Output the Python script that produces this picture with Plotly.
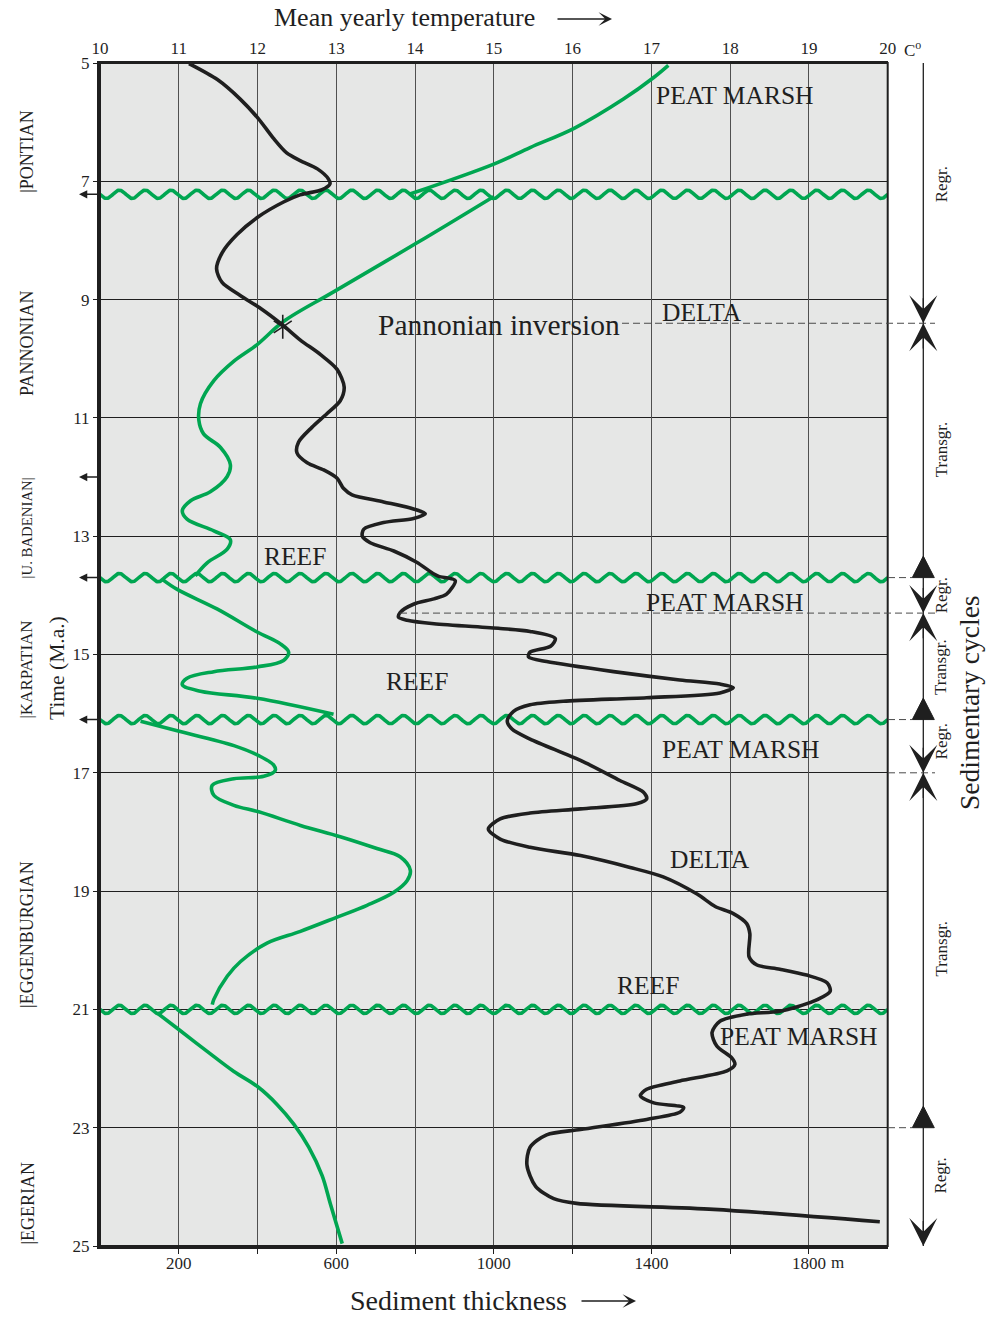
import numpy as np
import plotly.graph_objects as go

# ---------------- DATA ----------------
# Black curve: mean yearly temperature (deg C) against time (Ma)
temp_time = [5.01, 5.28, 5.61, 5.94, 6.27, 6.52, 6.65, 6.79, 6.96, 7.04, 7.14, 7.23, 7.35, 7.60,
             7.90, 8.21, 8.48, 8.71, 8.93, 9.15, 9.42, 9.68, 9.93, 10.18, 10.48, 10.71, 10.93,
             11.16, 11.41, 11.59, 11.76, 11.88, 12.02, 12.19, 12.30, 12.42, 12.54, 12.62, 12.70,
             12.77, 12.88, 13.00, 13.11, 13.25, 13.44, 13.64, 13.68, 13.75, 13.98, 14.06, 14.15,
             14.29, 14.37, 14.42, 14.48, 14.56, 14.61, 14.73, 14.86, 14.96, 15.04, 15.12, 15.29,
             15.43, 15.50, 15.56, 15.65, 15.73, 15.79, 15.85, 15.96, 16.12, 16.26, 16.43, 16.79,
             17.13, 17.33, 17.44, 17.52, 17.61, 17.68, 17.78, 17.95, 18.12, 18.26, 18.40, 18.60,
             18.76, 19.05, 19.26, 19.38, 19.55, 19.72, 20.11, 20.25, 20.32, 20.42, 20.55, 20.69,
             20.86, 21.03, 21.08, 21.20, 21.39, 21.62, 21.82, 21.93, 22.04, 22.21, 22.35, 22.46,
             22.58, 22.66, 22.74, 22.86, 23.03, 23.12, 23.33, 23.63, 23.99, 24.20, 24.28, 24.38,
             24.59]
temp_value = [11.13, 11.49, 11.78, 12.01, 12.20, 12.37, 12.54, 12.76, 12.90, 12.92, 12.82, 12.54,
              12.33, 12.01, 11.74, 11.55, 11.48, 11.55, 11.78, 12.04, 12.31, 12.54, 12.80, 13.01,
              13.10, 13.05, 12.88, 12.69, 12.52, 12.50, 12.63, 12.84, 13.01, 13.09, 13.20, 13.60,
              13.98, 14.13, 13.98, 13.60, 13.35, 13.33, 13.43, 13.73, 14.02, 14.24, 14.30, 14.51,
              14.40, 14.24, 13.98, 13.81, 13.79, 13.90, 14.24, 15.08, 15.46, 15.78, 15.72, 15.46,
              15.44, 15.67, 16.52, 17.36, 17.87, 18.04, 17.87, 16.94, 15.88, 15.46, 15.25, 15.17,
              15.23, 15.46, 16.10, 16.60, 16.90, 16.94, 16.82, 16.10, 15.46, 15.08, 14.93, 15.08,
              15.46, 16.10, 16.73, 17.15, 17.58, 17.81, 18.04, 18.21, 18.25, 18.24, 18.34, 18.63,
              18.97, 19.23, 19.27, 19.06, 18.63, 18.21, 17.87, 17.77, 17.83, 18.02, 18.06, 17.96,
              17.36, 16.94, 16.86, 17.03, 17.41, 17.36, 16.94, 16.10, 15.67, 15.46, 15.42, 15.53,
              15.76, 16.05, 17.79, 19.90]

# Green curve: sediment thickness (m) against time (Ma), in five separate stretches
sed_time_1 = [5.04, 5.25, 5.61, 6.10, 6.43, 6.70, 7.22]
sed_value_1 = [1443, 1405, 1329, 1205, 1092, 1003, 785]
sed_time_2 = [7.26, 8.04, 8.87, 9.37, 9.76, 10.04, 10.37, 10.76, 11.04, 11.27, 11.50, 11.79,
              11.99, 12.25, 12.40, 12.57, 12.71, 12.91, 13.06, 13.22, 13.45, 13.67]
sed_value_2 = [999, 805, 593, 466, 399, 340, 289, 255, 251, 263, 306, 331, 323, 280, 230, 209,
               221, 289, 331, 323, 272, 242]
sed_time_3 = [13.73, 13.90, 14.23, 14.62, 14.82, 14.96, 15.10, 15.21, 15.29, 15.40, 15.51, 15.62,
              15.74, 16.01]
sed_value_3 = [158, 196, 297, 399, 458, 479, 466, 399, 289, 221, 209, 255, 399, 593]
sed_time_4 = [16.13, 16.29, 16.54, 16.71, 16.87, 16.96, 17.06, 17.10, 17.21, 17.38, 17.55, 17.66,
              17.89, 18.08, 18.28, 18.42, 18.65, 18.82, 19.02, 19.24, 19.44, 19.68, 19.88, 20.19,
              20.44, 20.83, 20.92]
sed_value_4 = [103, 196, 340, 403, 441, 445, 416, 340, 285, 289, 340, 403, 509, 610, 703, 762,
               788, 780, 746, 678, 602, 509, 424, 357, 323, 289, 285]
sed_time_5 = [21.06, 21.34, 21.71, 22.05, 22.30, 22.61, 22.94, 23.33, 23.81, 24.29, 24.96]
sed_value_5 = [145, 200, 272, 340, 399, 450, 492, 530, 564, 585, 615]

# Pannonian inversion point (temperature, time)
inversion_temp = [12.32]
inversion_time = [9.46]

# Unconformities (wavy lines), Ma
unconformities = [7.22, 13.70, 16.10, 21.00]

# Axis ticks
time_ticks = [5, 7, 9, 11, 13, 15, 17, 19, 21, 23, 25]
temp_ticks = [10, 11, 12, 13, 14, 15, 16, 17, 18, 19, 20]
thick_ticks = [200, 400, 600, 800, 1000, 1200, 1400, 1600, 1800]
thick_labels = ["200", "", "600", "", "1000", "", "1400", "", "1800"]

# Facies labels (text, temperature position, time)
facies_text = ["PEAT MARSH", "DELTA", "REEF", "PEAT MARSH", "REEF", "PEAT MARSH", "DELTA",
               "REEF", "PEAT MARSH"]
facies_temp = [18.06, 17.64, 12.48, 17.93, 14.03, 18.14, 17.74, 16.96, 18.87]
facies_time = [5.55, 9.21, 13.35, 14.12, 15.46, 16.60, 18.47, 20.60, 21.46]

# Stages (label, time of lower boundary or centre)
stage_text = ["|PONTIAN", "|KARPATIAN", "|EGGENBURGIAN", "|EGERIAN"]
stage_base = [7.22, 16.10, 21.00, 25.0]
stage_size = [18, 17, 18, 18]
pannonian_centre = 9.75
badenian_centre = 12.87
left_arrow_times = [7.22, 12.0, 13.70, 16.10]

# Sedimentary cycles
cycle_down_tips = [9.40, 14.30, 17.00, 25.00]
cycle_up_tips = [9.40, 14.30, 17.00]
cycle_triangles = [13.70, 16.10, 23.00]
cycle_labels = ["Regr.", "Transgr.", "Regr.", "Transgr.", "Regr.", "Transgr.", "Regr."]
cycle_label_time = [7.05, 11.53, 14.00, 15.21, 16.47, 19.97, 23.81]

# ---------------- STYLE ----------------
FONT = "Liberation Serif"
INK = "#1f1f1f"
GREEN = "#00a651"
BG = "#e6e7e6"
W, H = 988, 1318
ML, MR, MT, MB = 100, 0, 63, 72
PW, PH = W - ML - MR, H - MT - MB


def px(x):
    return (x - ML) / PW


def py(y):
    return (H - MB - y) / PH


main_dom = [0, px(887.7)]
side_dom = [px(895), 1]
CX = 923.3          # x of the cycle column line (x3 units = pixels)
PX_PER_MA = PH / 20.0

fig = go.Figure()

# unconformity symbols: wavy lines (decoration drawn around each unconformity time)
wave_T = np.linspace(10, 20, 1501)
for t0 in unconformities:
    fig.add_trace(go.Scatter(
        x=wave_T, y=t0 + 0.07 * np.sin(2 * np.pi * (wave_T - 10) * 3.05),
        xaxis="x2", yaxis="y", mode="lines",
        line=dict(color=GREEN, width=3.6), hoverinfo="skip", showlegend=False))

# green curve
for tt, vv in [(sed_time_1, sed_value_1), (sed_time_2, sed_value_2), (sed_time_3, sed_value_3),
               (sed_time_4, sed_value_4), (sed_time_5, sed_value_5)]:
    fig.add_trace(go.Scatter(
        x=vv, y=tt, xaxis="x", yaxis="y", mode="lines",
        line=dict(color=GREEN, width=3.6, shape="spline", smoothing=1.0),
        hoverinfo="skip", showlegend=False))

# black curve
fig.add_trace(go.Scatter(
    x=temp_value, y=temp_time, xaxis="x2", yaxis="y", mode="lines",
    line=dict(color=INK, width=3.6, shape="spline", smoothing=0.8),
    hoverinfo="skip", showlegend=False))

# inversion star
for sym in ["y-up-open", "y-down-open"]:
    fig.add_trace(go.Scatter(
        x=inversion_temp, y=inversion_time, xaxis="x2", yaxis="y", mode="markers",
        marker=dict(symbol=sym, size=15, color=INK, line=dict(color=INK, width=1.6)),
        hoverinfo="skip", showlegend=False))

# cycle column: vertical line and triangles
fig.add_trace(go.Scatter(x=[CX, CX], y=[5, 25], xaxis="x3", yaxis="y3", mode="lines",
                         line=dict(color=INK, width=1.3), hoverinfo="skip", showlegend=False))
for t in cycle_triangles:
    h = 21.5 / PX_PER_MA
    fig.add_trace(go.Scatter(
        x=[CX - 11, CX + 11, CX, CX - 11], y=[t, t, t - h, t], xaxis="x3", yaxis="y3",
        mode="lines", fill="toself", fillcolor=INK, line=dict(color=INK, width=1),
        hoverinfo="skip", showlegend=False))

ann = []
tf = dict(family=FONT, color=INK)

for txt, T, t in zip(facies_text, facies_temp, facies_time):
    ann.append(dict(x=T, y=t, xref="x2", yref="y", text=txt, showarrow=False,
                    font=dict(tf, size=25.5), xanchor="center", yanchor="middle"))
ann.append(dict(x=15.06, y=9.43, xref="x2", yref="y", text="Pannonian inversion", showarrow=False,
                font=dict(tf, size=29.5), xanchor="center", yanchor="middle"))

# axis titles
ann.append(dict(x=px(404), y=py(18), xref="paper", yref="paper", text="Mean yearly temperature",
                showarrow=False, font=dict(tf, size=26), xanchor="center", yanchor="middle"))
ann.append(dict(x=px(612), y=py(19), xref="paper", yref="paper", text="", showarrow=True,
                ax=-56, ay=0, axref="pixel", ayref="pixel", arrowhead=3, arrowsize=1.4,
                arrowwidth=1.6, arrowcolor=INK))
ann.append(dict(x=px(458), y=py(1300), xref="paper", yref="paper", text="Sediment thickness",
                showarrow=False, font=dict(tf, size=28), xanchor="center", yanchor="middle"))
ann.append(dict(x=px(636), y=py(1301), xref="paper", yref="paper", text="", showarrow=True,
                ax=-56, ay=0, axref="pixel", ayref="pixel", arrowhead=3, arrowsize=1.4,
                arrowwidth=1.6, arrowcolor=INK))
ann.append(dict(x=px(57), y=py(668), xref="paper", yref="paper", text="Time (M.a.)",
                showarrow=False, font=dict(tf, size=21.5), textangle=-90,
                xanchor="center", yanchor="middle"))
ann.append(dict(x=px(902), y=py(49), xref="paper", yref="paper", text="C<sup>o</sup>",
                showarrow=False, font=dict(tf, size=17), xanchor="left", yanchor="middle"))
ann.append(dict(x=px(829), y=py(1262), xref="paper", yref="paper", text="m",
                showarrow=False, font=dict(tf, size=17), xanchor="left", yanchor="middle"))

# stages
for txt, tb, sz in zip(stage_text, stage_base, stage_size):
    ann.append(dict(x=px(27), y=tb, xref="paper", yref="y", text=txt, showarrow=False,
                    font=dict(tf, size=sz), textangle=-90, xanchor="center", yanchor="bottom",
                    borderpad=0))
ann.append(dict(x=px(27), y=pannonian_centre, xref="paper", yref="y", text="PANNONIAN",
                showarrow=False, font=dict(tf, size=18), textangle=-90,
                xanchor="center", yanchor="middle"))
ann.append(dict(x=px(27), y=badenian_centre, xref="paper", yref="y", text="|U. BADENIAN|",
                showarrow=False, font=dict(tf, size=14.8), textangle=-90,
                xanchor="center", yanchor="middle"))
for t in left_arrow_times:
    ann.append(dict(x=px(79), y=t, xref="paper", yref="y", text="", showarrow=True,
                    ax=20, ay=0, axref="pixel", ayref="pixel", arrowhead=2, arrowsize=1.1,
                    arrowwidth=1.5, arrowcolor=INK))

# cycles arrows
for t in cycle_down_tips:
    ann.append(dict(x=CX, y=t, xref="x3", yref="y3", ax=CX, ay=t - 0.45, axref="x3", ayref="y3",
                    text="", showarrow=True, arrowhead=3, arrowsize=3.6, arrowwidth=1.3,
                    arrowcolor=INK))
for t in cycle_up_tips:
    ann.append(dict(x=CX, y=t, xref="x3", yref="y3", ax=CX, ay=t + 0.45, axref="x3", ayref="y3",
                    text="", showarrow=True, arrowhead=3, arrowsize=3.6, arrowwidth=1.3,
                    arrowcolor=INK))
for txt, t in zip(cycle_labels, cycle_label_time):
    ann.append(dict(x=941, y=t, xref="x3", yref="y3", text=txt, showarrow=False,
                    font=dict(tf, size=17), textangle=-90, xanchor="center", yanchor="middle"))
ann.append(dict(x=970, y=py(703), xref="x3", yref="paper", text="Sedimentary cycles",
                showarrow=False, font=dict(tf, size=27.5), textangle=-90,
                xanchor="center", yanchor="middle"))

# shapes
shapes = [
    dict(type="rect", xref="x domain", yref="y domain", x0=0, x1=1, y0=0, y1=1,
         fillcolor=BG, line=dict(width=0), layer="below"),
    dict(type="rect", xref="x domain", yref="y domain", x0=0, x1=1, y0=0, y1=1,
         fillcolor="rgba(0,0,0,0)", line=dict(color=INK, width=2), layer="above"),
]
dash_specs = [(9.40, 622, 935), (14.30, 400, 935), (13.70, 888, 912), (16.10, 888, 912),
              (17.00, 888, 935), (23.00, 888, 912)]
for t, xa, xb in dash_specs:
    shapes.append(dict(type="line", xref="paper", yref="y", x0=px(xa), x1=px(xb), y0=t, y1=t,
                       line=dict(color="#4a4a4a", width=1, dash="7px,4px"), layer="above"))

axfont = dict(family=FONT, size=17, color=INK)
fig.update_layout(
    width=W, height=H, autosize=False,
    margin=dict(l=ML, r=MR, t=MT, b=MB, autoexpand=False),
    paper_bgcolor="white", plot_bgcolor="rgba(0,0,0,0)",
    showlegend=False,
    xaxis=dict(domain=main_dom, range=[0, 2000], anchor="y", side="bottom",
               tickvals=thick_ticks, ticktext=thick_labels, ticks="outside", ticklen=5,
               tickcolor=INK, tickwidth=1, showgrid=False, zeroline=False, showline=True,
               linewidth=3, linecolor=INK, tickfont=axfont, ticklabelstandoff=-5),
    xaxis2=dict(domain=main_dom, range=[10, 20], anchor="y", side="top", overlaying="x",
                tickvals=temp_ticks, ticktext=[str(v) for v in temp_ticks], ticks="",
                showgrid=True, gridcolor="#505050", gridwidth=1, zeroline=False,
                showline=True, linewidth=2, linecolor=INK, tickfont=axfont),
    yaxis=dict(domain=[0, 1], range=[25, 5], anchor="x", tickvals=time_ticks,
               ticks="outside", ticklen=4, tickcolor=INK, showgrid=True, gridcolor=INK,
               gridwidth=1, zeroline=False, showline=True, linewidth=3, linecolor=INK,
               tickfont=axfont),
    xaxis3=dict(domain=side_dom, range=[895, 988], anchor="y3", visible=False),
    yaxis3=dict(domain=[0, 1], range=[25, 5], anchor="x3", visible=False),
    annotations=ann,
    shapes=shapes,
)

fig.write_html("out.html", config={"displayModeBar": False, "responsive": False},
               post_script="document.body.style.margin='0';document.body.style.overflow='hidden';")
